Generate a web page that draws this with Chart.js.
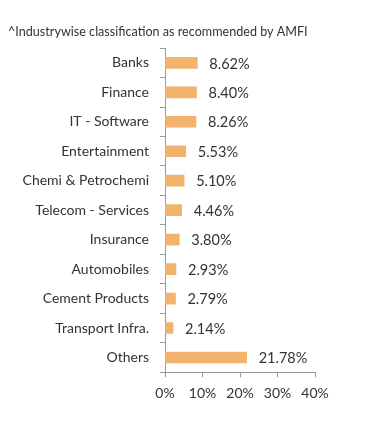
<!DOCTYPE html>
<html>
<head>
<meta charset="utf-8">
<script src="https://cdn.jsdelivr.net/npm/chart.js@4.4.0/dist/chart.umd.min.js"></script>
<style>
  body { margin: 0; background: #fff; }
  #wrap { width: 391px; height: 426px; }
</style>
</head>
<body>
<div id="wrap"><canvas id="_canvasc" width="391" height="426"></canvas></div>
<script>
var categories = ["Banks", "Finance", "IT - Software", "Entertainment", "Chemi & Petrochemi",
    "Telecom - Services", "Insurance", "Automobiles", "Cement Products", "Transport Infra.", "Others"];
var weights = [8.62, 8.40, 8.26, 5.53, 5.10, 4.46, 3.80, 2.93, 2.79, 2.14, 21.78];
var xTicks = [0, 10, 20, 30, 40];
var titleText = "^Industrywise classification as recommended by AMFI";

// value labels to the right of each bar
var valueLabels = {
    id: 'valueLabels',
    afterDatasetsDraw: function(chart) {
        var ctx = chart.ctx;
        var meta = chart.getDatasetMeta(0);
        ctx.save();
        ctx.font = '14.5px Lato';
        ctx.fillStyle = '#333';
        ctx.textAlign = 'left';
        ctx.textBaseline = 'middle';
        meta.data.forEach(function(bar, i) {
            ctx.fillText(weights[i].toFixed(2) + '%', bar.x + 12, bar.y + 1);
        });
        ctx.restore();
    }
};

var config = {
    type: 'bar',
    data: {
        labels: categories,
        datasets: [{
            data: weights,
            backgroundColor: '#F2B36C',
            barThickness: 11
        }]
    },
    options: {
        indexAxis: 'y',
        responsive: false,
        animation: false,
        layout: { padding: { left: 8, right: 76, top: 24, bottom: 16 } },
        plugins: {
            legend: { display: false },
            tooltip: { enabled: false },
            title: {
                display: true,
                text: titleText,
                align: 'start',
                color: '#333',
                font: { family: 'Lato', size: 12.6, weight: 'normal' },
                padding: { top: 0, bottom: 9 }
            }
        },
        scales: {
            x: {
                min: xTicks[0],
                max: xTicks[xTicks.length - 1],
                ticks: {
                    stepSize: 10,
                    color: '#333',
                    font: { family: 'Lato', size: 14 },
                    padding: 8,
                    callback: function(v) { return v + '%'; }
                },
                grid: { drawOnChartArea: false, tickLength: 5, color: '#999' },
                border: { color: '#999' }
            },
            y: {
                afterFit: function(scale) { scale.width = 157; },
                ticks: {
                    color: '#333',
                    font: { family: 'Lato', size: 14 },
                    padding: 11
                },
                grid: { drawOnChartArea: false, offset: true, tickLength: 5, color: '#999' },
                border: { color: '#999' }
            }
        }
    },
    plugins: [valueLabels]
};

window.myBar = new Chart(document.getElementById("_canvasc"), config);
</script>
</body>
</html>
